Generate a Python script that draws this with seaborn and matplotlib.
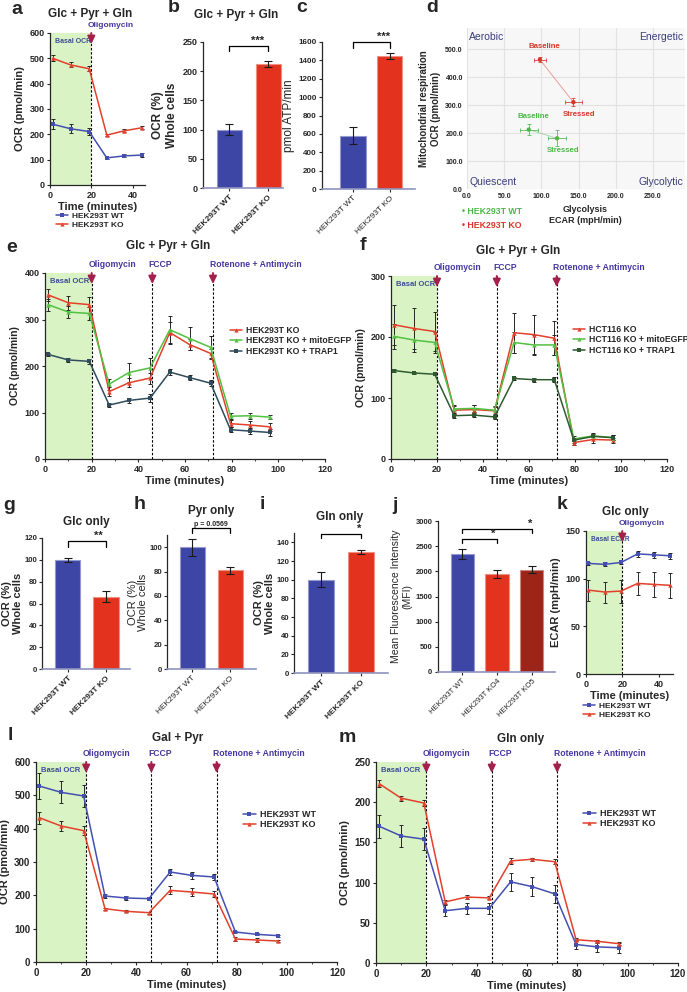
import numpy as np
import pandas as pd
import matplotlib
matplotlib.use("Agg")
import matplotlib.pyplot as plt
import seaborn as sns
from matplotlib.lines import Line2D

# ---------------- data ----------------
t_a = [1.3, 10, 19, 27.5, 36, 44.5]
a_wt = [240, 222, 211, 107, 115, 118]
a_wt_err = [20, 18, 15, 5, 6, 8]
a_ko = [500, 474, 459, 197, 214, 226]
a_ko_err = [12, 10, 10, 5, 6, 6]

wt_ko = ["HEK293T WT", "HEK293T KO"]
b_vals = [100, 212]
b_err = [10, 5]
c_vals = [580, 1450]
c_err = [90, 35]

d_states = ["Baseline", "Stressed"]
d_wt_ecar = [83, 121]
d_wt_ecar_err = [12, 12]
d_wt_ocr = [212, 181]
d_wt_ocr_err = [20, 28]
d_ko_ecar = [98, 143]
d_ko_ecar_err = [8, 11]
d_ko_ocr = [462, 310]
d_ko_ocr_err = [10, 14]

t_long = [1.3, 10, 19, 27.5, 36, 45, 53.5, 62, 71, 79.5, 88, 96.5]
inj_times = [20, 46, 72]
inj_labels = ["Oligomycin", "FCCP", "Rotenone + Antimycin"]

e_ko = [353, 336, 332, 145, 164, 174, 272, 246, 227, 76, 73, 69]
e_ko_err = [13, 15, 17, 10, 10, 12, 22, 12, 10, 7, 8, 8]
e_gfp = [332, 316, 313, 161, 186, 196, 278, 259, 240, 92, 93, 90]
e_gfp_err = [13, 13, 13, 12, 20, 22, 30, 25, 24, 6, 6, 5]
e_trap = [225, 213, 210, 116, 126, 131, 187, 175, 163, 63, 60, 57]
e_trap_err = [4, 5, 5, 5, 5, 8, 6, 6, 6, 6, 7, 7]

f_ko = [220, 214, 209, 80, 81, 79, 207, 204, 198, 27, 32, 31]
f_ko_err = [33, 33, 32, 7, 8, 8, 33, 32, 28, 4, 5, 4]
f_gfp = [201, 195, 191, 82, 83, 80, 191, 187, 187, 33, 38, 35]
f_gfp_err = [20, 20, 17, 6, 6, 6, 18, 17, 17, 4, 5, 4]
f_trap = [145, 141, 139, 71, 72, 69, 132, 130, 130, 31, 37, 35]
f_trap_err = [2, 2, 2, 3, 3, 3, 3, 3, 4, 4, 4, 4]

g_vals = [100, 66]
g_err = [2, 5]
h_vals = [100, 81]
h_err = [7, 3]
i_vals = [100, 130]
i_err = [8, 2]
j_groups = ["HEK293T WT", "HEK293T KO4", "HEK293T KO5"]
j_vals = [2350, 1940, 2030]
j_err = [100, 80, 70]

t_k = [1.3, 10.3, 19.3, 28.5, 37.5, 46.5]
k_wt = [116, 115, 117, 126, 125, 124]
k_wt_err = [2, 2, 2, 3, 3, 3]
k_ko = [88, 86, 87, 95, 94, 93]
k_ko_err = [11, 11, 12, 12, 13, 13]

l_wt = [528, 509, 498, 198, 192, 190, 270, 260, 255, 90, 83, 79]
l_wt_err = [38, 33, 32, 5, 5, 5, 10, 10, 8, 3, 3, 3]
l_ko = [433, 408, 394, 160, 152, 148, 215, 210, 204, 69, 66, 63]
l_ko_err = [18, 14, 13, 3, 3, 3, 12, 12, 10, 5, 5, 4]

m_wt = [170, 158, 154, 65, 68, 68, 101, 95, 86, 23, 20, 19]
m_wt_err = [14, 14, 14, 7, 7, 7, 11, 12, 11, 6, 6, 6]
m_ko = [223, 205, 199, 76, 82, 81, 127, 129, 126, 29, 27, 24]
m_ko_err = [4, 3, 4, 2, 2, 2, 4, 2, 3, 2, 2, 2]

# ---------------- style ----------------
sns.set_style("ticks")
plt.rcParams["font.family"] = ["Liberation Sans", "DejaVu Sans"]
plt.rcParams["font.weight"] = "bold"
plt.rcParams["axes.labelweight"] = "bold"
plt.rcParams["axes.linewidth"] = 0.9

BLUE = "#4450b0"
BAR_BLUE = "#3e46a5"
RED = "#e2402b"
BAR_RED = "#e3331f"
DARK_RED = "#9c2419"
GREEN = "#52c041"
SLATE = "#2f4b5c"
DKGREEN = "#2f5a30"
CRIMSON = "#a3204d"
PURPLE = "#4436a0"
GREEN_BG = "#d9f3c4"

W, H = 687, 992
fig = plt.figure(figsize=(W / 100, H / 100), dpi=100)


def add_ax(l, t, r, b):
    return fig.add_axes([l / W, 1 - b / H, (r - l) / W, (b - t) / H])


def ftext(x, y, s, **kw):
    kw.setdefault("ha", "center")
    kw.setdefault("va", "center")
    fig.text(x / W, 1 - y / H, s, **kw)


def tidy(ax, fs=6.5):
    sns.despine(ax=ax)
    ax.tick_params(labelsize=fs, length=2.5, width=0.8, pad=1.5)


def series(ax, t, y, err, color, marker):
    sns.lineplot(x=t, y=y, ax=ax, color=color, marker=marker, markersize=3.2,
                 markeredgewidth=0, linewidth=1.1, legend=False, zorder=3)
    ax.errorbar(t, y, yerr=err, fmt="none", ecolor="#262626", elinewidth=0.7,
                capsize=1.6, capthick=0.7, zorder=2)


def injections(ax, hpx, xs, labels, fs=6.2):
    tr = ax.get_xaxis_transform()
    for x, lab in zip(xs, labels):
        ax.axvline(x, color="k", lw=0.8, ls=(0, (2.2, 1.6)), zorder=1)
        ax.annotate("", xy=(x, 1 - 11 / hpx), xycoords=tr, xytext=(x, 1.0), textcoords=tr,
                    arrowprops=dict(arrowstyle="-|>,head_width=0.22,head_length=0.45",
                                    color=CRIMSON, lw=1.4, shrinkA=0, shrinkB=0),
                    annotation_clip=False)
        ax.annotate(lab, xy=(x, 1), xycoords=tr, xytext=(-2.5, 3), textcoords="offset points",
                    ha="left", va="bottom", fontsize=fs, color=PURPLE, annotation_clip=False)


def basal(ax, text="Basal OCR", end=20, fs=5.5):
    ax.axvspan(0, end, color=GREEN_BG, zorder=0, lw=0)
    ax.annotate(text, xy=(0, 1), xycoords="axes fraction", xytext=(3.5, -3.5),
                textcoords="offset points", ha="left", va="top", fontsize=fs, color="#3c4a9a")


def bars(ax, groups, vals, err, colors, width=0.66):
    sns.barplot(x=groups, y=vals, hue=groups, palette=dict(zip(groups, colors)),
                legend=False, ax=ax, width=width, saturation=1, linewidth=0.8)
    for p, c in zip(ax.patches, colors):
        p.set_edgecolor([min(1, v * 0.55 + 0.45) for v in matplotlib.colors.to_rgb(c)])
    ax.errorbar(range(len(vals)), vals, yerr=err, fmt="none", ecolor="#1a1a1a",
                elinewidth=0.8, capsize=2.6, capthick=0.8, zorder=4)
    ax.set_xlabel("")


def bracket(ax, x0, x1, y, h, text, fs=8, tx=None):
    ax.plot([x0, x0, x1, x1], [y - h, y, y, y - h], color="k", lw=0.9, clip_on=False)
    if tx is None:
        tx = (x0 + x1) / 2
    ax.text(tx, y, text, ha="center", va="bottom", fontsize=fs, clip_on=False)


def bar_ticks(ax, weight="bold", fs=6):
    ax.set_xticks(ax.get_xticks())
    ax.set_xticklabels([t.get_text() for t in ax.get_xticklabels()], rotation=45,
                       ha="right", rotation_mode="anchor", fontsize=fs, fontweight=weight)
    ax.spines["bottom"].set_color("#8f94bf")
    ax.spines["bottom"].set_linewidth(1.2)


def legend(handles, labels, x, y, fs=6.2):
    fig.legend(handles, labels, loc="upper left", bbox_to_anchor=(x / W, 1 - y / H),
               frameon=False, fontsize=fs, handlelength=1.4, handletextpad=0.5,
               labelspacing=0.15, borderpad=0, borderaxespad=0)


def h(color, marker):
    return Line2D([], [], color=color, marker=marker, markersize=3, markeredgewidth=0, lw=1.1)


# ---------------- panel a ----------------
ax = add_ax(50, 33, 145, 185)
basal(ax, fs=5)
series(ax, t_a, a_wt, a_wt_err, BLUE, "s")
series(ax, t_a, a_ko, a_ko_err, RED, "^")
injections(ax, 152, [20], ["Oligomycin"], fs=6)
ax.set_xlim(0, 46)
ax.set_ylim(0, 600)
ax.set_xticks([0, 20, 40])
ax.set_yticks(range(0, 601, 100))
ax.set_xlabel("Time (minutes)", fontsize=8, labelpad=2)
ax.set_ylabel("OCR (pmol/min)", fontsize=8, labelpad=3)
tidy(ax)
legend([h(BLUE, "s"), h(RED, "^")], wt_ko, 56, 212, fs=6)

# ---------------- panel b ----------------
ax = add_ax(203, 42, 283, 188)
bars(ax, wt_ko, b_vals, b_err, [BAR_BLUE, BAR_RED], width=0.64)
ax.set_xlim(-0.67, 1.38)
ax.set_ylim(0, 250)
ax.set_yticks(range(0, 251, 50))
bracket(ax, 0, 1, 244, 10, "***", tx=0.72)
ax.set_ylabel("OCR (%)\nWhole cells", fontsize=8.5, labelpad=3)
tidy(ax)
bar_ticks(ax)

# ---------------- panel c ----------------
ax = add_ax(322, 42, 415, 189)
bars(ax, wt_ko, c_vals, c_err, [BAR_BLUE, BAR_RED], width=0.68)
ax.set_xlim(-0.84, 1.68)
ax.set_ylim(0, 1600)
ax.set_yticks(range(0, 1601, 200))
bracket(ax, 0, 1, 1600, 70, "***", tx=0.82)
ax.set_ylabel("pmol ATP/min", fontsize=8.5, fontweight="normal", labelpad=2)
tidy(ax, fs=5.8)
bar_ticks(ax, weight="normal")

# ---------------- panel d ----------------
ax = add_ax(467, 28, 685, 189)
ax.set_facecolor("#f7f7f7")
ax.set_xlim(0, 293)
ax.set_ylim(0, 575)
ax.set_xticks(range(0, 251, 50))
ax.set_yticks(range(0, 501, 100))
ax.set_xticklabels([f"{v:.1f}" for v in range(0, 251, 50)])
ax.set_yticklabels([f"{v:.1f}" for v in range(0, 501, 100)])
ax.grid(True, color="#e2e2e2", lw=0.8)
ax.set_axisbelow(True)
for s in ax.spines.values():
    s.set_visible(False)
ax.tick_params(length=0, labelsize=5, pad=3)
for xs, ys, xe, ye, col in [(d_wt_ecar, d_wt_ocr, d_wt_ecar_err, d_wt_ocr_err, "#4cb848"),
                            (d_ko_ecar, d_ko_ocr, d_ko_ecar_err, d_ko_ocr_err, "#d8352a")]:
    ax.plot(xs, ys, color=col, lw=0.7, alpha=0.45, zorder=2)
    ax.errorbar(xs, ys, xerr=xe, yerr=ye, fmt="none", ecolor=col, elinewidth=0.7,
                capsize=1.5, capthick=0.7, alpha=0.8, zorder=3)
    sns.scatterplot(x=xs, y=ys, ax=ax, color=col, s=10, edgecolor="none", zorder=4, legend=False)
    ax.annotate(d_states[0], xy=(xs[0], ys[0]), xytext=(3, 7), textcoords="offset points",
                ha="center", va="bottom", fontsize=5.6, color=col)
    ax.annotate(d_states[1], xy=(xs[1], ys[1]), xytext=(4, -6), textcoords="offset points",
                ha="center", va="top", fontsize=5.6, color=col)
qcol = "#3a3d7a"
ax.text(0.01, 0.975, "Aerobic", transform=ax.transAxes, ha="left", va="top", fontsize=7.5,
        color=qcol, fontweight="normal")
ax.text(0.99, 0.975, "Energetic", transform=ax.transAxes, ha="right", va="top", fontsize=7.5,
        color=qcol, fontweight="normal")
ax.text(0.01, 0.01, "Quiescent", transform=ax.transAxes, ha="left", va="bottom", fontsize=7.5,
        color=qcol, fontweight="normal")
ax.text(0.99, 0.01, "Glycolytic", transform=ax.transAxes, ha="right", va="bottom", fontsize=7.5,
        color=qcol, fontweight="normal")
ax.set_ylabel("Mitochondrial respiration\nOCR (pmol/min)", fontsize=7, labelpad=3)
ftext(585, 215, "Glycolysis\nECAR (mpH/min)", fontsize=6.5, linespacing=1.15)
ftext(462, 212, "• " + wt_ko[0], ha="left", fontsize=6.3, color="#4cb848")
ftext(462, 226, "• " + wt_ko[1], ha="left", fontsize=6.3, color="#d8352a")

# ---------------- panel e ----------------
ax = add_ax(45, 273, 325, 459)
basal(ax)
series(ax, t_long, e_ko, e_ko_err, RED, "^")
series(ax, t_long, e_gfp, e_gfp_err, GREEN, "^")
series(ax, t_long, e_trap, e_trap_err, SLATE, "s")
injections(ax, 186, inj_times, inj_labels)
ax.set_xlim(0, 120)
ax.set_ylim(0, 400)
ax.set_xticks(range(0, 121, 20))
ax.set_xticks(range(0, 121, 10), minor=True)
ax.set_yticks(range(0, 401, 100))
ax.set_xlabel("Time (minutes)", fontsize=8, labelpad=2)
ax.set_ylabel("OCR (pmol/min)", fontsize=7.5, labelpad=3)
tidy(ax)
ax.tick_params(which="minor", length=1.5)
legend([h(RED, "^"), h(GREEN, "^"), h(SLATE, "s")],
       ["HEK293T KO", "HEK293T KO + mitoEGFP", "HEK293T KO + TRAP1"], 230, 326)

# ---------------- panel f ----------------
ax = add_ax(391, 276, 667, 459)
basal(ax)
series(ax, t_long, f_ko, f_ko_err, RED, "^")
series(ax, t_long, f_gfp, f_gfp_err, GREEN, "^")
series(ax, t_long, f_trap, f_trap_err, DKGREEN, "s")
injections(ax, 183, inj_times, inj_labels)
ax.set_xlim(0, 120)
ax.set_ylim(0, 300)
ax.set_xticks(range(0, 121, 20))
ax.set_xticks(range(0, 121, 10), minor=True)
ax.set_yticks(range(0, 301, 100))
ax.set_xlabel("Time (minutes)", fontsize=8, labelpad=2)
ax.set_ylabel("OCR (pmol/min)", fontsize=7.5, labelpad=3)
tidy(ax)
ax.tick_params(which="minor", length=1.5)
legend([h(RED, "^"), h(GREEN, "^"), h(DKGREEN, "s")],
       ["HCT116 KO", "HCT116 KO + mitoEGFP", "HCT116 KO + TRAP1"], 573, 325)

# ---------------- panel g ----------------
ax = add_ax(42, 538, 130, 669)
bars(ax, wt_ko, g_vals, g_err, [BAR_BLUE, BAR_RED])
ax.set_xlim(-0.68, 1.63)
ax.set_ylim(0, 120)
ax.set_yticks(range(0, 121, 20))
bracket(ax, 0, 1, 117.5, 5.5, "**", tx=0.8)
ax.set_ylabel("OCR (%)\nWhole cells", fontsize=8, labelpad=1, linespacing=1.05)
tidy(ax, fs=5.6)
ax.tick_params(axis="y", pad=1)
bar_ticks(ax)

# ---------------- panel h ----------------
ax = add_ax(167, 535, 256, 669)
bars(ax, wt_ko, h_vals, h_err, [BAR_BLUE, BAR_RED])
ax.set_xlim(-0.66, 1.68)
ax.set_ylim(0, 110)
ax.set_yticks(range(0, 101, 20))
bracket(ax, 0, 1, 116, 4, "p = 0.0569", fs=5)
ax.set_ylabel("OCR (%)\nWhole cells", fontsize=8, fontweight="normal", labelpad=1,
              linespacing=1.05)
tidy(ax, fs=5.6)
ax.tick_params(axis="y", pad=1)
bar_ticks(ax, weight="normal")

# ---------------- panel i ----------------
ax = add_ax(294, 533, 388, 673)
bars(ax, wt_ko, i_vals, i_err, [BAR_BLUE, BAR_RED])
ax.set_xlim(-0.68, 1.68)
ax.set_ylim(0, 150)
ax.set_yticks(range(0, 141, 20))
bracket(ax, 0, 1, 149, 4, "*", tx=0.95)
ax.set_ylabel("OCR (%)\nWhole cells", fontsize=8, labelpad=1, linespacing=1.05)
tidy(ax, fs=5.6)
ax.tick_params(axis="y", pad=1)
bar_ticks(ax)

# ---------------- panel j ----------------
ax = add_ax(438, 521, 555, 672)
bars(ax, j_groups, j_vals, j_err, [BAR_BLUE, BAR_RED, DARK_RED])
ax.set_xlim(-0.69, 2.66)
ax.set_ylim(0, 3000)
ax.set_yticks(range(0, 3001, 500))
bracket(ax, 0, 2, 2836, 80, "*", tx=1.95)
bracket(ax, 0, 1, 2638, 80, "*", tx=0.9)
ax.set_ylabel("Mean Fluorescence Intensity\n(MFI)", fontsize=7.5, fontweight="normal", labelpad=2)
tidy(ax, fs=5.5)
bar_ticks(ax, weight="normal", fs=5.5)

# ---------------- panel k ----------------
ax = add_ax(586, 531, 673, 674)
basal(ax, text="Basal ECAR", fs=4.8)
series(ax, t_k, k_wt, k_wt_err, BLUE, "s")
series(ax, t_k, k_ko, k_ko_err, RED, "^")
injections(ax, 143, [20], ["Oligomycin"], fs=6)
ax.set_xlim(0, 48)
ax.set_ylim(0, 150)
ax.set_xticks([0, 20, 40])
ax.set_yticks([0, 50, 100, 150])
ax.set_xlabel("Time (minutes)", fontsize=8, labelpad=2)
ax.set_ylabel("ECAR (mpH/min)", fontsize=8, labelpad=3)
tidy(ax)
legend([h(BLUE, "s"), h(RED, "^")], wt_ko, 583, 702, fs=6)

# ---------------- panel l ----------------
ax = add_ax(36, 762, 337, 962)
basal(ax)
series(ax, t_long, l_wt, l_wt_err, BLUE, "s")
series(ax, t_long, l_ko, l_ko_err, RED, "^")
injections(ax, 200, inj_times, inj_labels)
ax.set_xlim(0, 120)
ax.set_ylim(0, 600)
ax.set_xticks(range(0, 121, 20))
ax.set_xticks(range(0, 121, 10), minor=True)
ax.set_yticks(range(0, 601, 100))
ax.set_xlabel("Time (minutes)", fontsize=8, labelpad=2)
ax.set_ylabel("OCR (pmol/min)", fontsize=8, labelpad=3)
tidy(ax, fs=7)
ax.tick_params(which="minor", length=1.5)
legend([h(BLUE, "s"), h(RED, "^")], wt_ko, 243, 810, fs=6.5)

# ---------------- panel m ----------------
ax = add_ax(376, 762, 678, 963)
basal(ax)
series(ax, t_long, m_wt, m_wt_err, BLUE, "s")
series(ax, t_long, m_ko, m_ko_err, RED, "^")
injections(ax, 201, inj_times, inj_labels)
ax.set_xlim(0, 120)
ax.set_ylim(0, 250)
ax.set_xticks(range(0, 121, 20))
ax.set_xticks(range(0, 121, 10), minor=True)
ax.set_yticks(range(0, 251, 50))
ax.set_xlabel("Time (minutes)", fontsize=8, labelpad=2)
ax.set_ylabel("OCR (pmol/min)", fontsize=8, labelpad=3)
tidy(ax, fs=7)
ax.tick_params(which="minor", length=1.5)
legend([h(BLUE, "s"), h(RED, "^")], wt_ko, 583, 809, fs=6.5)

# ---------------- titles and panel letters ----------------
for x, y, s in [(90, 14, "Glc + Pyr + Gln"), (236, 15, "Glc + Pyr + Gln"),
                (168, 246, "Glc + Pyr + Gln"), (518, 251, "Glc + Pyr + Gln"),
                (86, 522, "Glc only"), (211, 511, "Pyr only"), (340, 517, "Gln only"),
                (625, 512, "Glc only"), (178, 738, "Gal + Pyr"), (521, 739, "Gln only")]:
    ftext(x, y, s, fontsize=8.5)

for x, y, s in [(17, 9, "a"), (174, 8, "b"), (302, 8, "c"), (432, 8, "d"),
                (12, 247, "e"), (363, 245, "f"), (9, 505, "g"), (140, 505, "h"),
                (262, 505, "i"), (395, 505, "j"), (562, 505, "k"),
                (10, 735, "l"), (347, 737, "m")]:
    ftext(x, y, s, fontsize=14)

fig.savefig("out.png", dpi=100)
